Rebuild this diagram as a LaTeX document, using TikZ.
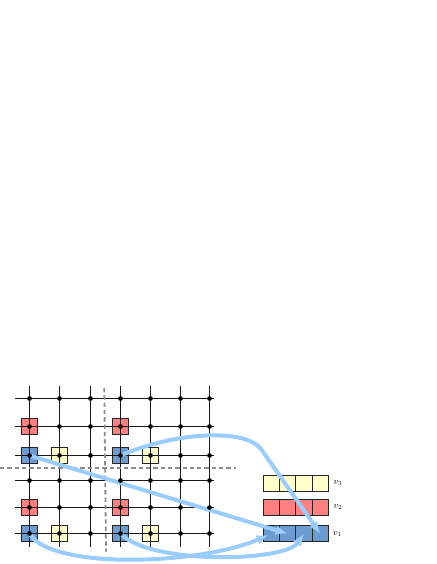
\documentclass[tikz,border=0pt]{standalone}
\usetikzlibrary{arrows.meta}
\definecolor{sqred}{RGB}{255,128,128}
\definecolor{sqblue}{RGB}{108,155,208}
\definecolor{sqyellow}{RGB}{255,255,204}
\definecolor{arrowblue}{RGB}{153,204,255}
\definecolor{dashgray}{RGB}{140,140,140}
\begin{document}
\begin{tikzpicture}[x=1pt,y=-1pt,
  cell/.style={draw=black!85, line width=0.9pt, minimum width=16pt, minimum height=16pt, inner sep=0pt, outer sep=0pt},
  redsq/.style={cell, fill=sqred},
  bluesq/.style={cell, fill=sqblue},
  yelsq/.style={cell, fill=sqyellow},
  barcell/.style={cell, minimum width=16.25pt},
  dot/.style={circle, fill=black, inner sep=0pt, minimum size=4.8pt},
  gridline/.style={black!90, line width=1pt},
  sep/.style={dashgray, line width=1.8pt, dash pattern=on 4.3pt off 3pt},
  flow/.style={arrowblue, line width=4pt, -{Latex[length=12pt,width=10pt]}},
  lbl/.style={anchor=west, inner sep=0pt, font=\fontsize{9}{10}\selectfont}]
\useasboundingbox (0,0) rectangle (436,564);

% coloured squares on the lattice
\node[redsq]  (rs1) at (29.5,426.5) {};
\node[bluesq] (bs1) at (29.5,455.5) {};
\node[yelsq]  (ys1) at (59.5,455.5) {};
\node[redsq]  (rs2) at (120.5,426.5) {};
\node[bluesq] (bs2) at (120.5,455.5) {};
\node[yelsq]  (ys2) at (150.5,455.5) {};
\node[redsq]  (rs3) at (29.5,507.5) {};
\node[bluesq] (bs3) at (29.5,533.5) {};
\node[yelsq]  (ys3) at (59.5,533.5) {};
\node[redsq]  (rs4) at (120.5,507.5) {};
\node[bluesq] (bs4) at (120.5,533.5) {};
\node[yelsq]  (ys4) at (150.5,533.5) {};

% lattice lines
\foreach \y in {398.5,426.5,455.5,480.5,507.5,533.5}
  \draw[gridline] (15,\y) -- (214,\y);
\foreach \x in {29.5,59.5,90.5,120.5,150.5,180.5,209.5}
  \draw[gridline] (\x,386) -- (\x,547);

% separators
\draw[sep] (104.3,388) -- (106,551.7);
\draw[sep] (0,467.7) -- (236,467.7);

% bars
\foreach \k in {1,2,3,4} {
  \node[barcell, fill=sqyellow] (yc\k) at (271.4+16.25*\k-16.25,483) {};
  \node[barcell, fill=sqred]    (rc\k) at (271.4+16.25*\k-16.25,507.2) {};
  \node[barcell, fill=sqblue]   (bc\k) at (271.4+16.25*\k-16.25,533.7) {};
}
\node[lbl] (l3) at (333.5,483) {$v_3$};
\node[lbl] (l2) at (333.5,507.5) {$v_2$};
\node[lbl] (l1) at (333,534) {$v_1$};

% arrows
\draw[flow] (bs2.center) .. controls (175,432) and (245,428) .. (261,449) -- (bc4.center);
\draw[flow] (bs1.center) -- (bc2.center);
\draw[flow] (bs4.center) .. controls (150,565) and (285,562) .. (bc3.center);
\draw[flow, shorten >=3pt] (bs3.center) .. controls (50,570) and (200,565) .. (bc1.center);

% lattice dots
\foreach \x [count=\i] in {29.5,59.5,90.5,120.5,150.5,180.5,209.5}
  \foreach \y [count=\j] in {398.5,426.5,455.5,480.5,507.5,533.5}
    \node[dot] (p-\i-\j) at (\x,\y) {};
\end{tikzpicture}
\end{document}
